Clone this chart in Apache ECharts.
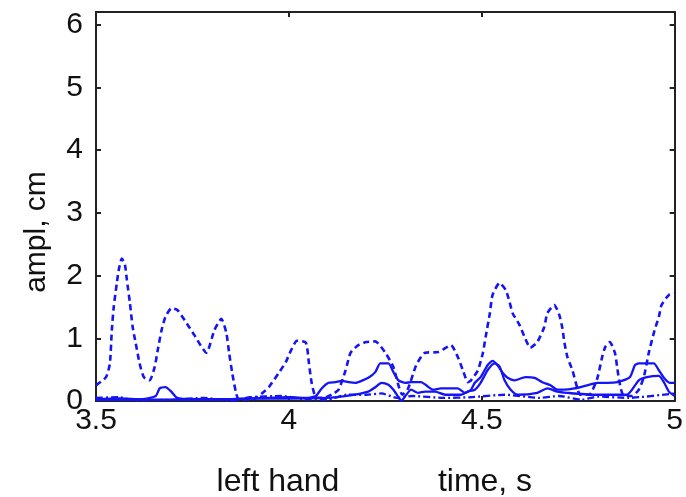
<!DOCTYPE html>
<html>
<head>
<meta charset="utf-8">
<title>left hand amplitude</title>
<script src="https://cdn.jsdelivr.net/npm/echarts@6/dist/echarts.min.js"></script>
<style>
  html, body { margin: 0; padding: 0; background: #fff; }
  #chart { width: 686px; height: 497px; }
</style>
</head>
<body>
<div id="chart"></div>
<script>
// values: [time s, amplitude cm]
const dashedSeries = [
  [3.500, 0.25], [3.526, 0.38], [3.536, 0.60], [3.541, 1.13], [3.546, 1.50],
  [3.554, 1.88], [3.559, 2.09], [3.567, 2.27], [3.575, 2.17], [3.580, 1.93],
  [3.588, 1.56], [3.595, 1.18], [3.603, 0.92], [3.613, 0.60], [3.624, 0.38],
  [3.639, 0.33], [3.652, 0.54], [3.660, 0.81], [3.670, 1.13], [3.680, 1.34],
  [3.696, 1.48], [3.711, 1.45], [3.735, 1.24], [3.755, 1.05], [3.786, 0.77],
  [3.807, 1.13], [3.825, 1.31], [3.838, 1.08], [3.845, 0.77], [3.853, 0.45],
  [3.863, 0.13], [3.871, 0.02], [3.910, 0.03], [3.936, 0.15], [3.948, 0.22],
  [3.974, 0.45], [3.992, 0.62], [4.005, 0.80], [4.021, 0.96], [4.044, 0.93],
  [4.052, 0.60], [4.059, 0.29], [4.070, 0.06], [4.090, 0.05], [4.116, 0.12],
  [4.129, 0.18], [4.147, 0.49], [4.160, 0.77], [4.180, 0.89], [4.201, 0.94],
  [4.224, 0.95], [4.250, 0.77], [4.271, 0.54], [4.284, 0.25], [4.294, 0.10],
  [4.309, 0.20], [4.330, 0.57], [4.353, 0.77], [4.387, 0.78], [4.420, 0.89],
  [4.438, 0.70], [4.451, 0.49], [4.464, 0.30], [4.472, 0.33], [4.490, 0.49],
  [4.503, 0.77], [4.510, 1.02], [4.521, 1.40], [4.528, 1.69], [4.546, 1.88],
  [4.562, 1.77], [4.572, 1.58], [4.580, 1.40], [4.598, 1.21], [4.611, 1.02],
  [4.626, 0.85], [4.644, 0.94], [4.662, 1.18], [4.670, 1.40], [4.688, 1.53],
  [4.701, 1.37], [4.709, 1.16], [4.714, 0.94], [4.722, 0.70], [4.735, 0.49],
  [4.747, 0.22], [4.755, 0.10], [4.778, 0.10], [4.799, 0.35], [4.812, 0.70],
  [4.820, 0.86], [4.832, 0.94], [4.845, 0.77], [4.851, 0.54], [4.856, 0.33],
  [4.866, 0.10], [4.889, 0.08], [4.907, 0.18], [4.920, 0.38], [4.933, 0.77],
  [4.948, 1.13], [4.959, 1.34], [4.966, 1.53], [4.985, 1.69], [5.000, 1.71]
];

const solidUpper = [
  [3.500, 0.03], [3.560, 0.04], [3.620, 0.03], [3.655, 0.08], [3.665, 0.20],
  [3.680, 0.22], [3.695, 0.15], [3.710, 0.05], [3.750, 0.03], [3.850, 0.03],
  [3.950, 0.05], [4.000, 0.06], [4.050, 0.05], [4.070, 0.08], [4.085, 0.20],
  [4.103, 0.29], [4.121, 0.30], [4.137, 0.32], [4.155, 0.30], [4.173, 0.29],
  [4.188, 0.32], [4.206, 0.37], [4.224, 0.46], [4.237, 0.60], [4.258, 0.60],
  [4.271, 0.46], [4.284, 0.33], [4.302, 0.29], [4.317, 0.30], [4.343, 0.30],
  [4.356, 0.25], [4.374, 0.18], [4.394, 0.20], [4.438, 0.20], [4.456, 0.13],
  [4.472, 0.18], [4.482, 0.29], [4.497, 0.38], [4.515, 0.57], [4.528, 0.64],
  [4.541, 0.57], [4.554, 0.45], [4.567, 0.37], [4.585, 0.33], [4.613, 0.38],
  [4.637, 0.37], [4.657, 0.30], [4.678, 0.25], [4.696, 0.18], [4.714, 0.18],
  [4.740, 0.20], [4.773, 0.25], [4.799, 0.29], [4.825, 0.29], [4.851, 0.30],
  [4.884, 0.38], [4.897, 0.57], [4.907, 0.60], [4.946, 0.60], [4.959, 0.49],
  [4.972, 0.37], [4.987, 0.29], [5.000, 0.29]
];

const solidLower = [
  [3.500, 0.02], [3.600, 0.02], [3.800, 0.02], [3.900, 0.04], [4.000, 0.04],
  [4.100, 0.05], [4.150, 0.08], [4.206, 0.15], [4.224, 0.22], [4.240, 0.29],
  [4.258, 0.26], [4.271, 0.18], [4.284, 0.06], [4.291, 0.00], [4.302, 0.08],
  [4.317, 0.18], [4.335, 0.13], [4.353, 0.15], [4.379, 0.15], [4.405, 0.10],
  [4.446, 0.10], [4.464, 0.15], [4.482, 0.18], [4.497, 0.29], [4.515, 0.49],
  [4.533, 0.60], [4.546, 0.55], [4.559, 0.33], [4.575, 0.18], [4.593, 0.10],
  [4.644, 0.13], [4.670, 0.20], [4.696, 0.15], [4.722, 0.13], [4.791, 0.10],
  [4.876, 0.10], [4.907, 0.33], [4.928, 0.38], [4.959, 0.40], [4.972, 0.30],
  [4.985, 0.15], [5.000, 0.08]
];

const dashDotSeries = [
  [3.500, 0.05], [3.560, 0.06], [3.600, 0.01], [3.700, 0.02], [3.780, 0.05],
  [3.850, 0.00], [3.900, 0.06], [3.980, 0.08], [4.040, 0.03], [4.100, 0.02],
  [4.150, 0.10], [4.200, 0.10], [4.240, 0.12], [4.280, 0.05], [4.320, 0.08],
  [4.400, 0.05], [4.470, 0.06], [4.560, 0.10], [4.650, 0.05], [4.700, 0.08],
  [4.760, 0.02], [4.800, 0.07], [4.880, 0.05], [5.000, 0.12]
];

const xTicks = { min: 3.5, max: 5, step: 0.5 };
const yTicks = { min: 0, max: 6.2, step: 1 };

const BLUE = '#1414f5';
const AXIS = '#222';
const FONT = 'Liberation Sans, Arial, sans-serif';
const FS = 30;

const chart = echarts.init(document.getElementById('chart'), null, { renderer: 'canvas' });

const boxAxis = (extra) => Object.assign({
  type: 'value',
  axisLine: { show: true, onZero: false, lineStyle: { color: AXIS, width: 2 } },
  axisTick: { show: true, inside: true, length: 5, lineStyle: { color: AXIS, width: 2 } },
  splitLine: { show: false },
}, extra);

function line(data, type, width) {
  return {
    type: 'line',
    data: data,
    showSymbol: false,
    smooth: 0.2,
    lineStyle: { color: BLUE, width: width || 2.3, type: type },
    z: 2
  };
}

chart.setOption({
  animation: false,
  backgroundColor: '#fff',
  grid: { left: 96, right: 7, top: 12, bottom: 96, containLabel: false },
  xAxis: [
    boxAxis({
      min: xTicks.min, max: xTicks.max, interval: xTicks.step, position: 'bottom',
      axisLabel: { color: '#111', fontSize: FS, fontFamily: FONT, margin: 5 }
    }),
    boxAxis({
      min: xTicks.min, max: xTicks.max, interval: xTicks.step, position: 'top',
      axisLabel: { show: false }
    })
  ],
  yAxis: [
    boxAxis({
      min: yTicks.min, max: yTicks.max, interval: yTicks.step, position: 'left',
      axisLabel: {
        color: '#111', fontSize: FS, fontFamily: FONT, margin: 13,
        showMaxLabel: false,
        formatter: (v) => (Number.isInteger(v) ? String(v) : '')
      }
    }),
    boxAxis({
      min: yTicks.min, max: yTicks.max, interval: yTicks.step, position: 'right',
      axisLabel: { show: false }
    })
  ],
  series: [
    line(dashedSeries, [6, 4], 2.6),
    line(solidUpper, 'solid'),
    line(solidLower, 'solid'),
    line(dashDotSeries, [7, 3, 2, 3])
  ],
  graphic: [
    { type: 'text', x: 37, y: 232, rotation: Math.PI / 2,
      style: { text: 'ampl, cm', fontSize: FS, fontFamily: FONT, fill: '#111',
               align: 'center', verticalAlign: 'middle' } },
    { type: 'text', x: 278, y: 482,
      style: { text: 'left hand', fontSize: 32, fontFamily: FONT, fill: '#111',
               align: 'center', verticalAlign: 'middle' } },
    { type: 'text', x: 485, y: 482,
      style: { text: 'time, s', fontSize: 32, fontFamily: FONT, fill: '#111',
               align: 'center', verticalAlign: 'middle' } }
  ]
});
</script>
</body>
</html>
